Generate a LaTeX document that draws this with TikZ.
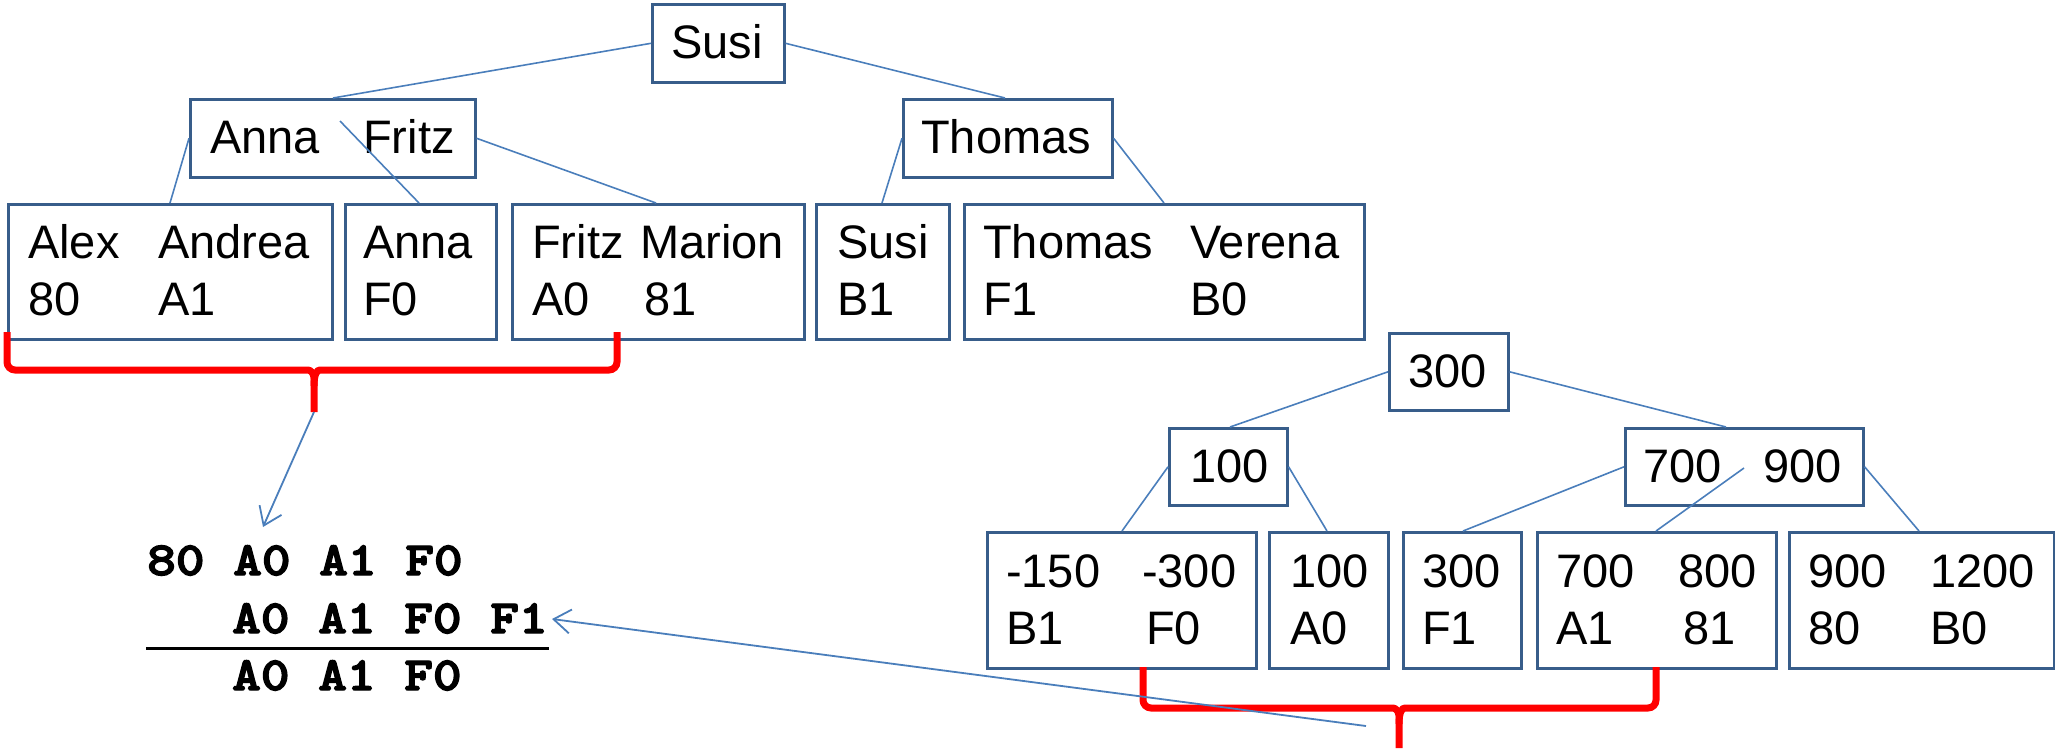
\documentclass[tikz,border=0pt]{standalone}
\usepackage{fontspec}
\setsansfont{Liberation Sans}
\newfontfamily\courb{lmmonolt10-bold.otf}[FakeStretch=1.15,FakeBold=3]
\usetikzlibrary{arrows.meta}
\definecolor{boxc}{HTML}{385D8A}
\definecolor{edgec}{HTML}{4A7EBB}
\definecolor{bracec}{HTML}{FF0000}
\begin{document}
\begin{tikzpicture}[x=1pt,y=-1pt,
  box/.style={draw=boxc, line width=2.6pt, rectangle, inner sep=0pt, anchor=north west},
  txt/.style={anchor=base west, inner sep=0pt, font=\sffamily\fontsize{47}{56}\selectfont},
  mono/.style={anchor=base west, inner sep=0pt, font=\courb\fontsize{47.5}{56}\selectfont},
  edge/.style={draw=edgec, line width=1.6pt},
  arr/.style={draw=edgec, line width=1.8pt, -{Straight Barb[length=17pt,width=24pt,line width=1.8pt]}},
  brace/.style={draw=bracec, line width=7pt, rounded corners=8pt}]
\useasboundingbox (0,0) rectangle (2055,748);

% ---------- upper tree ----------
\node[box, minimum width=132pt, minimum height=78pt] (susi) at (651,3) {};
\node[box, minimum width=285pt, minimum height=78pt] (af) at (189,98) {};
\node[box, minimum width=209pt, minimum height=78pt] (thomas) at (902,98) {};
\node[box, minimum width=324pt, minimum height=135pt] (b1) at (7,203) {};
\node[box, minimum width=151pt, minimum height=135pt] (b2) at (344,203) {};
\node[box, minimum width=292pt, minimum height=135pt] (b3) at (511,203) {};
\node[box, minimum width=133pt, minimum height=135pt] (b4) at (815,203) {};
\node[box, minimum width=400pt, minimum height=135pt] (b5) at (963,203) {};

\node[txt] (tsusi) at (671,58) {Susi};
\node[txt] (tanna) at (210,153) {Anna};
\node[txt] (tfritz) at (363,153) {Fritz};
\node[txt] (tthomas) at (921,153) {Thomas};
\node[txt] (t11) at (28,258) {Alex};
\node[txt] (t12) at (158,258) {Andrea};
\node[txt] (t13) at (28,315) {80};
\node[txt] (t14) at (158,315) {A1};
\node[txt] (t21) at (363,258) {Anna};
\node[txt] (t22) at (363,315) {F0};
\node[txt] (t31) at (532,258) {Fritz};
\node[txt] (t32) at (640,258) {Marion};
\node[txt] (t33) at (532,315) {A0};
\node[txt] (t34) at (644,315) {81};
\node[txt] (t41) at (837,258) {Susi};
\node[txt] (t42) at (837,315) {B1};
\node[txt] (t51) at (983,258) {Thomas};
\node[txt] (t52) at (1190,258) {Verena};
\node[txt] (t53) at (983,315) {F1};
\node[txt] (t54) at (1190,315) {B0};

\coordinate (afm) at ([xshift=151pt,yshift=-23pt]af.north west);
\draw[edge] (susi.west) -- ([xshift=144pt]af.north west);
\draw[edge] (susi.east) -- ([xshift=103pt]thomas.north west);
\draw[edge] (af.west) -- ([xshift=163pt]b1.north west);
\draw[edge] (afm) -- ([xshift=75pt]b2.north west);
\draw[edge] (af.east) -- ([xshift=145pt]b3.north west);
\draw[edge] (thomas.west) -- ([xshift=67pt]b4.north west);
\draw[edge] (thomas.east) -- ([xshift=201pt]b5.north west);

% ---------- lower tree ----------
\node[box, minimum width=119pt, minimum height=77pt] (n300) at (1388,332) {};
\node[box, minimum width=118pt, minimum height=77pt] (n100) at (1168,427) {};
\node[box, minimum width=238pt, minimum height=77pt] (n79) at (1624,427) {};
\node[box, minimum width=269pt, minimum height=136pt] (c1) at (986,531) {};
\node[box, minimum width=119pt, minimum height=136pt] (c2) at (1268,531) {};
\node[box, minimum width=118pt, minimum height=136pt] (c3) at (1402,531) {};
\node[box, minimum width=239pt, minimum height=136pt] (c4) at (1536,531) {};
\node[box, minimum width=265pt, minimum height=136pt] (c5) at (1788,531) {};

\node[txt] (u300) at (1408,387) {300};
\node[txt] (u100) at (1190,482) {100};
\node[txt] (u700) at (1643,482) {700};
\node[txt] (u900) at (1763,482) {900};
\node[txt] (u11) at (1006,587) {-150};
\node[txt] (u12) at (1142,587) {-300};
\node[txt] (u13) at (1006,644) {B1};
\node[txt] (u14) at (1146,644) {F0};
\node[txt] (u21) at (1290,587) {100};
\node[txt] (u22) at (1290,644) {A0};
\node[txt] (u31) at (1422,587) {300};
\node[txt] (u32) at (1422,644) {F1};
\node[txt] (u41) at (1556,587) {700};
\node[txt] (u42) at (1678,587) {800};
\node[txt] (u43) at (1556,644) {A1};
\node[txt] (u44) at (1683,644) {81};
\node[txt] (u51) at (1808,587) {900};
\node[txt] (u52) at (1930,587) {1200};
\node[txt] (u53) at (1808,644) {80};
\node[txt] (u54) at (1930,644) {B0};

\coordinate (n79m) at ([xshift=120pt,yshift=-41pt]n79.north west);
\draw[edge] (n300.west) -- ([xshift=62pt]n100.north west);
\draw[edge] (n300.east) -- ([xshift=102pt]n79.north west);
\draw[edge] (n100.west) -- ([xshift=136pt]c1.north west);
\draw[edge] (n100.east) -- ([xshift=59pt]c2.north west);
\draw[edge] (n79.west) -- ([xshift=61pt]c3.north west);
\draw[edge] (n79m) -- ([xshift=120pt]c4.north west);
\draw[edge] (n79.east) -- ([xshift=131pt]c5.north west);

% ---------- braces ----------
\coordinate (br1t) at (314,412);
\draw[brace] (7,332) -- (7,370) -- (300,370) .. controls (311,370) and (314,374) .. (314,386) -- (br1t);
\draw[brace] (617,332) -- (617,370) -- (328,370) .. controls (317,370) and (314,374) .. (314,386);
\coordinate (br2t) at (1399,748);
\draw[brace] (1143,667) -- (1143,708) -- (1385,708) .. controls (1396,708) and (1399,712) .. (1399,724) -- (br2t);
\draw[brace] (1656,667) -- (1656,708) -- (1413,708) .. controls (1402,708) and (1399,712) .. (1399,724);

% ---------- text block ----------
\node[mono] (m1) at (147,575) {80 A0 A1 F0};
\node[mono] (m2) at (232,633) {A0 A1 F0 F1};
\node[mono] (m3) at (232,690) {A0 A1 F0};
\coordinate (rl) at (146,648);
\coordinate (rr) at (549,648);
\draw[line width=3pt] (rl) -- (rr);

% ---------- arrows ----------
\coordinate (a1e) at (263,527);
\coordinate (a2s) at (1366,726);
\coordinate (a2e) at (552,619);
\draw[arr] (br1t) -- (a1e);
\draw[arr] (a2s) -- (a2e);
\end{tikzpicture}
\end{document}
